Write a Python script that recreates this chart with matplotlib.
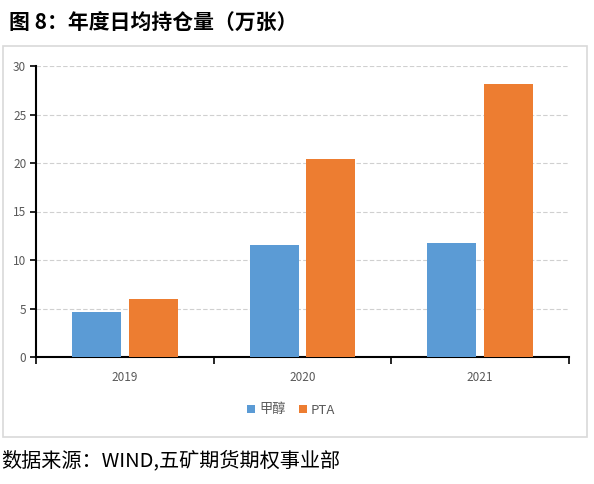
import numpy as np
import matplotlib.pyplot as plt
from matplotlib.patches import Rectangle

plt.rcParams['font.family'] = ['Noto Sans CJK SC', 'DejaVu Sans']

years = ['2019', '2020', '2021']
methanol = [4.6, 11.5, 11.8]   # 甲醇
pta = [5.95, 20.4, 28.1]       # PTA
yticks = [0, 5, 10, 15, 20, 25, 30]

fig = plt.figure(figsize=(5.94, 4.84), dpi=100)
ax = fig.add_axes([36 / 594, 1 - 357 / 484, (569 - 36) / 594, (357 - 66) / 484])

x = np.arange(len(years))
w = 0.275
ax.bar(x - 0.16, methanol, w, color='#5b9bd5', label='甲醇', zorder=3)
ax.bar(x + 0.16, pta, w, color='#ed7d31', label='PTA', zorder=3)

ax.set_xlim(-0.5, 2.5)
ax.set_ylim(0, 30)
ax.set_yticks(yticks)
ax.set_xticks(x)
ax.set_xticklabels(years)
ax.set_xticks([-0.5, 0.5, 1.5, 2.5], minor=True)
ax.tick_params(axis='x', which='major', length=0, labelsize=8.5, colors='#595959', pad=10)
ax.tick_params(axis='x', which='minor', length=5, width=1.2, direction='out', color='black')
ax.tick_params(axis='y', length=4, width=1.2, labelsize=8.5, labelcolor='#595959', pad=3)
ax.grid(axis='y', linestyle=(0, (4, 2)), color='#d0d0d0', linewidth=0.8, zorder=0)
for s in ['top', 'right']:
    ax.spines[s].set_visible(False)
ax.spines['left'].set_linewidth(1.5)
ax.spines['bottom'].set_linewidth(1.5)

leg = fig.legend(loc='center', bbox_to_anchor=(0.49, 1 - 410 / 484), ncol=2, frameon=False,
                 fontsize=9.5, handlelength=0.6, handleheight=0.6, handletextpad=0.3,
                 columnspacing=1.0)
for t in leg.get_texts():
    t.set_color('#595959')

fig.patches.append(Rectangle((3 / 594, 1 - 437 / 484), 584 / 594, (437 - 46) / 484,
                             transform=fig.transFigure, fill=False, edgecolor='#d9d9d9',
                             linewidth=1.2))

fig.text(9 / 594, 1 - 23 / 484, '图 8：年度日均持仓量（万张）', fontsize=15, fontweight='bold',
         va='center', ha='left')
fig.text(1 / 594, 1 - 461 / 484, '数据来源：WIND,五矿期货期权事业部', fontsize=14.5,
         va='center', ha='left')

fig.savefig('out.png', dpi=100)
